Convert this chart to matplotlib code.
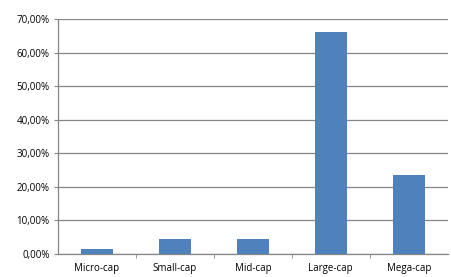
import matplotlib
matplotlib.use('Agg')
import matplotlib.pyplot as plt
from matplotlib.ticker import FuncFormatter, FixedLocator

plt.rcParams['font.family'] = ['Open Sans', 'DejaVu Sans']

categories = ['Micro-cap', 'Small-cap', 'Mid-cap', 'Large-cap', 'Mega-cap']
shares = [1.5, 4.45, 4.45, 66.2, 23.5]

fig = plt.figure(figsize=(4.51, 2.77), dpi=100)
ax = fig.add_axes([0.1286, 0.0830, 0.864, 0.847])

x = list(range(len(categories)))
ax.bar(x, shares, width=0.41, color='#4F81BD', zorder=3)

ax.set_xlim(-0.5, len(categories) - 0.5)
ax.set_ylim(0, 70)
ax.set_yticks(range(0, 71, 10))
ax.yaxis.set_major_formatter(FuncFormatter(lambda v, p: '{:.2f}%'.format(v).replace('.', ',')))
ax.yaxis.grid(True, color='#868686', linewidth=0.9, zorder=0)

ax.set_xticks(x)
ax.set_xticklabels(categories)
ax.xaxis.set_minor_locator(FixedLocator([i + 0.5 for i in range(len(categories) - 1)]))
ax.tick_params(axis='x', which='major', length=0, pad=6.5, labelsize=7)
ax.tick_params(axis='x', which='minor', length=3, color='#868686', direction='out')
ax.tick_params(axis='y', length=3, color='#868686', labelsize=7, pad=3)

for s in ['top', 'right']:
    ax.spines[s].set_visible(False)
for s in ['left', 'bottom']:
    ax.spines[s].set_color('#868686')
    ax.spines[s].set_linewidth(0.9)

fig.savefig('out.png', dpi=100)
